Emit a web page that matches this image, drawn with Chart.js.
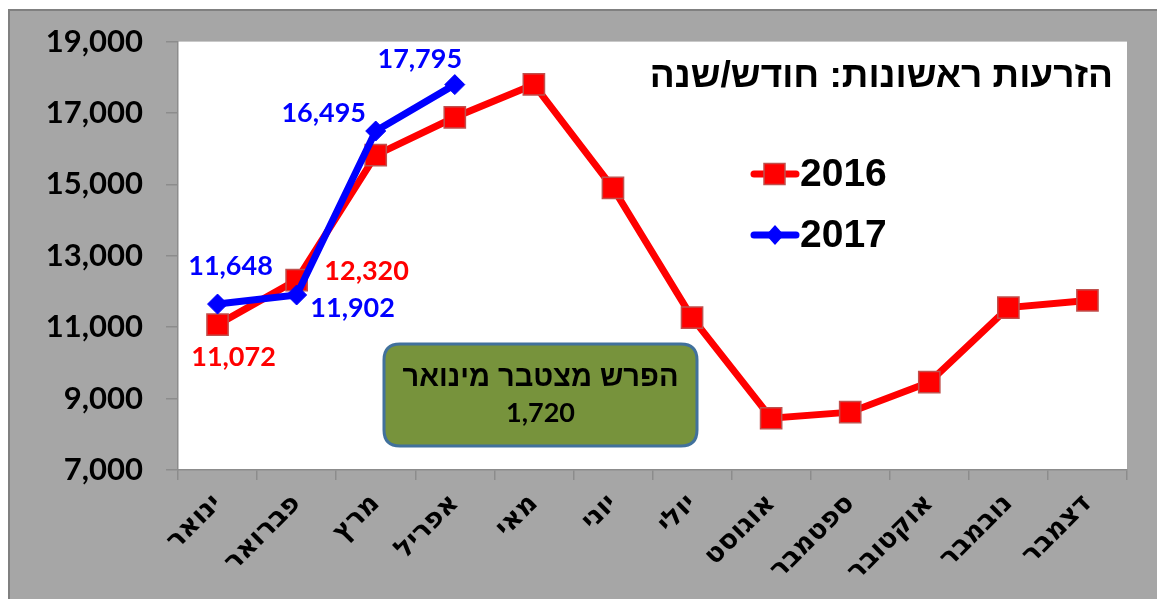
<!DOCTYPE html>
<html>
<head>
<meta charset="utf-8">
<script src="https://cdn.jsdelivr.net/npm/chart.js@4.4.1/dist/chart.umd.min.js"></script>
<style>
  html, body { margin: 0; padding: 0; background: #ffffff; }
  #wrap { position: relative; width: 1157px; height: 599px; }
  canvas { display: block; }
</style>
</head>
<body>
<div id="wrap"><canvas id="c" width="1157" height="599"></canvas></div>
<script>
// ---- data ----
const months = ['ינואר','פברואר','מרץ','אפריל','מאי','יוני','יולי','אוגוסט','ספטמבר','אוקטובר','נובמבר','דצמבר'];
const series2016 = [11072, 12320, 15820, 16880, 17800, 14900, 11270, 8450, 8620, 9460, 11550, 11750];
const series2017 = [11648, 11902, 16495, 17795, null, null, null, null, null, null, null, null];
const seriesNames = ['2016', '2017'];
const yTicks = [7000, 9000, 11000, 13000, 15000, 17000, 19000];
const chartTitle = 'הזרעות ראשונות: חודש/שנה';
const boxLines = ['הפרש מצטבר מינואר', '1,720'];
// which points carry a value label
const labelled2016 = [0, 1];
const labelled2017 = [0, 1, 2, 3];

const fmt = v => v.toLocaleString('en-US');

// ---- plugins ----
const framePlugin = {
  id: 'frame',
  beforeDraw(chart) {
    const ctx = chart.ctx, a = chart.chartArea;
    ctx.save();
    ctx.fillStyle = '#a6a6a6';
    ctx.fillRect(8, 9, chart.width - 8, chart.height - 9);
    ctx.strokeStyle = '#808080';
    ctx.lineWidth = 2;
    ctx.beginPath();
    ctx.moveTo(9, chart.height);
    ctx.lineTo(9, 10);
    ctx.lineTo(chart.width, 10);
    ctx.stroke();
    ctx.fillStyle = '#ffffff';
    ctx.fillRect(a.left, a.top, a.right - a.left, a.bottom - a.top);
    ctx.restore();
  }
};

function roundRect(ctx, x, y, w, h, r) {
  ctx.beginPath();
  ctx.moveTo(x + r, y);
  ctx.lineTo(x + w - r, y);
  ctx.quadraticCurveTo(x + w, y, x + w, y + r);
  ctx.lineTo(x + w, y + h - r);
  ctx.quadraticCurveTo(x + w, y + h, x + w - r, y + h);
  ctx.lineTo(x + r, y + h);
  ctx.quadraticCurveTo(x, y + h, x, y + h - r);
  ctx.lineTo(x, y + r);
  ctx.quadraticCurveTo(x, y, x + r, y);
  ctx.closePath();
}

const decoPlugin = {
  id: 'deco',
  afterDatasetsDraw(chart, args, opts) {
    const ctx = chart.ctx;
    const xs = chart.scales.x, ys = chart.scales.y;
    ctx.save();
    // title
    ctx.direction = 'rtl';
    ctx.fillStyle = '#000';
    ctx.font = 'bold 37px "Liberation Sans", Arial, sans-serif';
    ctx.textAlign = 'right';
    ctx.textBaseline = 'middle';
    ctx.fillText(chartTitle, 1113, 77);

    // legend
    ctx.direction = 'ltr';
    chart.data.datasets.forEach((ds, i) => {
      const y = 174 + i * 61;
      ctx.strokeStyle = ds.borderColor;
      ctx.lineWidth = 7;
      ctx.lineCap = 'round';
      ctx.beginPath();
      ctx.moveTo(754, y);
      ctx.lineTo(796, y);
      ctx.stroke();
      ctx.fillStyle = ds.backgroundColor;
      ctx.strokeStyle = ds.pointBorderColor;
      ctx.lineWidth = 1.5;
      if (ds.pointStyle === 'rect') {
        ctx.fillRect(764, y - 10.5, 21, 21);
        ctx.strokeRect(764, y - 10.5, 21, 21);
      } else {
        ctx.beginPath();
        ctx.moveTo(775, y - 10); ctx.lineTo(784, y); ctx.lineTo(775, y + 10); ctx.lineTo(766, y);
        ctx.closePath(); ctx.fill();
      }
      ctx.fillStyle = '#000';
      ctx.font = 'bold 39px "Liberation Sans", Arial, sans-serif';
      ctx.textAlign = 'left';
      ctx.textBaseline = 'middle';
      ctx.fillText(ds.label, 800, y + 1);
    });

    // value labels
    ctx.font = 'bold 27px Lato, "Open Sans", sans-serif';
    ctx.textAlign = 'center';
    ctx.textBaseline = 'middle';
    const offs = opts.offsets;
    [labelled2016, labelled2017].forEach((list, di) => {
      const ds = chart.data.datasets[di];
      list.forEach(pi => {
        const v = ds.data[pi];
        const px = xs.getPixelForValue(pi), py = ys.getPixelForValue(v);
        const o = offs[di][pi];
        ctx.fillStyle = ds.borderColor;
        ctx.fillText(fmt(v), px + o[0], py + o[1]);
      });
    });

    // annotation box
    const b = opts.box;
    roundRect(ctx, b.x, b.y, b.w, b.h, 16);
    ctx.fillStyle = '#77933c';
    ctx.fill();
    ctx.strokeStyle = '#41719c';
    ctx.lineWidth = 3;
    ctx.stroke();
    ctx.fillStyle = '#000';
    ctx.direction = 'rtl';
    ctx.font = 'bold 29px "Liberation Sans", sans-serif';
    ctx.fillText(boxLines[0], b.x + b.w / 2, b.y + 34);
    ctx.direction = 'ltr';
    ctx.font = 'bold 27px Lato, sans-serif';
    ctx.fillText(boxLines[1], b.x + b.w / 2, b.y + 69);
    ctx.restore();
  }
};

function build() {
  new Chart(document.getElementById('c'), {
    type: 'line',
    data: {
      labels: months,
      datasets: [
        {
          label: seriesNames[0],
          data: series2016,
          borderColor: '#ff0000',
          backgroundColor: '#ff0000',
          pointBorderColor: '#c0504d',
          pointBackgroundColor: '#ff0000',
          pointStyle: 'rect',
          pointRadius: 15,
          pointBorderWidth: 1.5,
          borderWidth: 7,
          tension: 0,
          order: 2
        },
        {
          label: seriesNames[1],
          data: series2017,
          borderColor: '#0000ff',
          backgroundColor: '#0000ff',
          pointBorderColor: '#0000ff',
          pointBackgroundColor: '#0000ff',
          pointStyle: 'rectRot',
          pointRadius: 10,
          pointBorderWidth: 1,
          borderWidth: 7,
          tension: 0,
          spanGaps: false,
          order: 1
        }
      ]
    },
    options: {
      responsive: false,
      animation: false,
      layout: { padding: { top: 40, right: 30, left: 0, bottom: 0 } },
      plugins: {
        legend: { display: false },
        tooltip: { enabled: false },
        title: { display: false },
        deco: {
          offsets: [
            { 0: [16, 33], 1: [70, -9] },
            { 0: [13, -38], 1: [56, 13], 2: [-52, -18], 3: [-35, -25] }
          ],
          box: { x: 384, y: 344, w: 313, h: 102 }
        }
      },
      scales: {
        x: {
          offset: true,
          afterFit(s) { s.height = 129; },
          grid: { display: true, drawOnChartArea: false, drawTicks: true, tickLength: 10, offset: true, color: '#8c8c8c', lineWidth: 1.5 },
          border: { display: true, color: '#8c8c8c', width: 1.5 },
          ticks: {
            autoSkip: false, maxRotation: 45, minRotation: 45, padding: 8,
            color: '#000',
            font: { family: '"DejaVu Sans", sans-serif', weight: 'bold', size: 27 }
          }
        },
        y: {
          min: yTicks[0],
          max: yTicks[yTicks.length - 1],
          afterFit(s) { s.width = 178; },
          afterBuildTicks(s) { s.ticks = yTicks.map(v => ({ value: v })); },
          grid: { display: true, drawOnChartArea: false, drawTicks: true, tickLength: 12, color: '#8c8c8c', lineWidth: 1.5 },
          border: { display: true, color: '#8c8c8c', width: 1.5 },
          ticks: {
            padding: 23,
            color: '#000',
            font: { family: 'Lato, sans-serif', weight: 'bold', size: 31 },
            callback: v => fmt(v)
          }
        }
      }
    },
    plugins: [framePlugin, decoPlugin]
  });
}

const fontLoads = [
  'bold 29px Lato', 'bold 30px "Liberation Sans"', 'bold 21px "DejaVu Sans"'
].map(f => document.fonts.load(f, 'אב 0123'));
Promise.all(fontLoads).then(build, build);
</script>
</body>
</html>
